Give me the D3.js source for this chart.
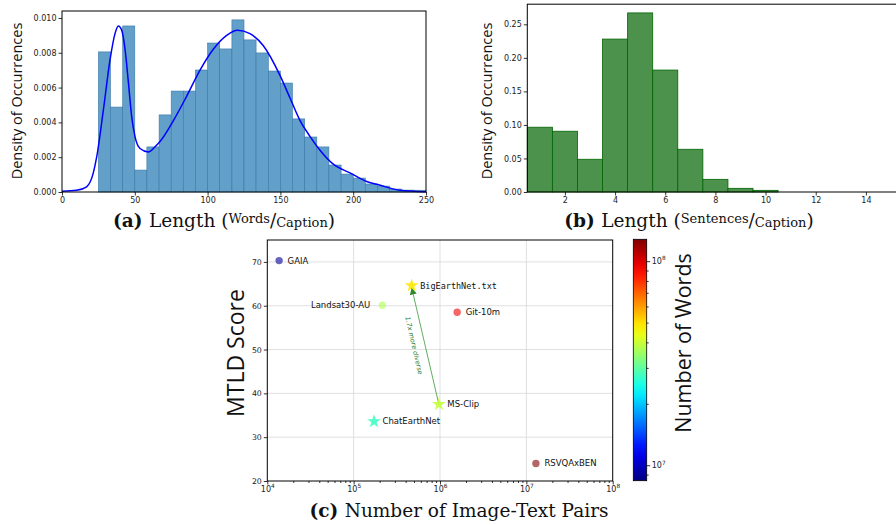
<!DOCTYPE html>
<html>
<head>
<meta charset="utf-8">
<script src="https://cdn.jsdelivr.net/npm/d3@7"></script>
<style>
  body { margin: 0; background: #fff; }
</style>
</head>
<body>
<script>
// (a) words per caption histogram + kde
const wordEdges = [25, 33.3, 41.7, 50, 58.3, 66.7, 75, 83.3, 91.7, 100, 108.3, 116.7, 125, 133.3,
  141.7, 150, 158.3, 166.7, 175, 183.3, 191.7, 200, 208.3, 216.7, 225, 233.3, 241.7, 250];
const wordDensity = [0.00805, 0.00488, 0.00954, 0.00126, 0.00259, 0.00443, 0.00580, 0.00580, 0.00701,
  0.00856, 0.00822, 0.00989, 0.00874, 0.00799, 0.00695, 0.00626, 0.00420, 0.00316, 0.00259, 0.00155,
  0.00103, 0.00080, 0.00046, 0.00034, 0.00017, 0.00011, 0.00010];
const kdeX = [0, 10, 16.9, 21.5, 23.8, 28.4, 33.0, 36.4, 38.7, 41.0, 43.3, 45.6, 47.9, 50.1, 53.6, 59.3,
  63.9, 67.3, 76.5, 85.6, 94.8, 103.9, 113.1, 120.6, 129.1, 138.3, 149.7, 156.6, 163.5, 170.3, 177.2,
  186.3, 197.8, 209.3, 218, 232, 250];
const kdeY = [0.00005, 0.0001, 0.0003, 0.0011, 0.0020, 0.0047, 0.0076, 0.0091, 0.00954, 0.0093, 0.0082,
  0.0063, 0.0043, 0.0032, 0.0025, 0.0023, 0.0026, 0.0029, 0.0041, 0.0055, 0.0070, 0.0082, 0.0090, 0.0093,
  0.0091, 0.0084, 0.0067, 0.0054, 0.0041, 0.0032, 0.0024, 0.0016, 0.0011, 0.0006, 0.0004, 0.0001, 0.00002];
const wordTicks = [0, 50, 100, 150, 200, 250];
const densityTicks = [0, 0.002, 0.004, 0.006, 0.008, 0.010];

// (b) sentences per caption
const sentBins = [1, 2, 3, 4, 5, 6, 7, 8, 9, 10];
const sentDensity = [0.0966, 0.0906, 0.0488, 0.228, 0.267, 0.1818, 0.0637, 0.0189, 0.0055, 0.0025];
const sentTicks = [2, 4, 6, 8, 10, 12, 14];
const sentDensityTicks = [0, 0.05, 0.10, 0.15, 0.20, 0.25];

// (c) diversity vs size
const datasets = ["GAIA", "BigEarthNet.txt", "Landsat30-AU", "Git-10m", "MS-Clip", "ChatEarthNet", "RSVQAxBEN"];
const pairs = [1.37e4, 4.7e5, 2.15e5, 1.58e6, 9.7e5, 1.72e5, 1.29e7];
const mtld = [70.3, 64.6, 60.1, 58.5, 37.5, 33.6, 24.0];
const words = [9e6, 4.9e7, 3.7e7, 9.5e7, 3.95e7, 2.75e7, 1.28e8];
const markers = ["circle", "star", "circle", "circle", "star", "star", "circle"];
const pairTicks = [1e4, 1e5, 1e6, 1e7, 1e8];
const mtldTicks = [20, 30, 40, 50, 60, 70];
const wordCountTicks = [1e7, 1e8];

const svg = d3.select("body").append("svg").attr("width", 896).attr("height", 525);

function jet(t) {
  const c = v => Math.max(0, Math.min(1, v));
  const r = c(1.5 - Math.abs(4 * t - 3)), g = c(1.5 - Math.abs(4 * t - 2)), b = c(1.5 - Math.abs(4 * t - 1));
  return d3.rgb(r * 255, g * 255, b * 255).formatHex();
}

function styleAxis(size) {
  return g => {
    g.select(".domain").remove();
    g.selectAll("text").attr("font-family", "DejaVu Sans").attr("font-size", size).attr("fill", "#222");
    g.selectAll("line").attr("stroke", "#000").attr("stroke-width", 0.8);
  };
}

function spines(x0, y0, x1, y1) {
  svg.append("rect").attr("x", x0).attr("y", y0).attr("width", x1 - x0).attr("height", y1 - y0)
    .attr("fill", "none").attr("stroke", "#000").attr("stroke-width", 1);
}

function caption(cx, y, tag, parts) {
  const t = svg.append("text").attr("x", cx).attr("y", y).attr("text-anchor", "middle")
    .attr("font-family", "DejaVu Serif").attr("font-size", 18.5).attr("fill", "#111");
  t.append("tspan").attr("font-weight", "bold").text(tag + " ");
  parts.forEach(p => {
    const s = t.append("tspan").text(p.t);
    if (p.small) s.attr("font-size", 13);
    if (p.dy) s.attr("dy", p.dy);
  });
}

// ---------- (a) ----------
const xA = d3.scaleLinear().domain([0, 250]).range([62, 426]);
const yA = d3.scaleLinear().domain([0, 0.0104]).range([192, 11]);

svg.append("g").selectAll("rect").data(wordDensity).join("rect")
  .attr("x", (d, i) => xA(wordEdges[i]))
  .attr("width", (d, i) => xA(wordEdges[i + 1]) - xA(wordEdges[i]))
  .attr("y", d => yA(d))
  .attr("height", d => yA(0) - yA(d))
  .attr("fill", "#62a0ca")
  .attr("stroke", "#3a78a8").attr("stroke-width", 0.6);

svg.append("path")
  .datum(kdeX.map((x, i) => [x, kdeY[i]]))
  .attr("d", d3.line().x(d => xA(d[0])).y(d => yA(d[1])).curve(d3.curveMonotoneX))
  .attr("fill", "none").attr("stroke", "#0000ff").attr("stroke-width", 1.5);

svg.append("g").attr("transform", "translate(0,192)")
  .call(d3.axisBottom(xA).tickValues(wordTicks).tickSize(3.5).tickPadding(2).tickFormat(d3.format("d")))
  .call(styleAxis(8));
svg.append("g").attr("transform", "translate(62,0)")
  .call(d3.axisLeft(yA).tickValues(densityTicks).tickSize(3.5).tickPadding(2).tickFormat(d3.format(".3f")))
  .call(styleAxis(8));
spines(62, 11, 426, 192);

svg.append("text").attr("transform", "translate(22,101) rotate(-90)").attr("text-anchor", "middle")
  .attr("font-family", "Open Sans").attr("font-size", 14.5).attr("fill", "#111")
  .text("Density of Occurrences");

caption(224, 227, "(a)", [{t: "Length ("}, {t: "Words", small: true, dy: -4}, {t: "/", dy: 4}, {t: "Caption", small: true}, {t: ")"}]);

// ---------- (b) ----------
const xB = d3.scaleLinear().domain([0.5, 15.5]).range([527.3, 903.5]);
const yB = d3.scaleLinear().domain([0, 0.28]).range([192, 4.2]);

svg.append("g").selectAll("rect").data(sentDensity).join("rect")
  .attr("x", (d, i) => xB(sentBins[i] - 0.5))
  .attr("width", xB(1.5) - xB(0.5))
  .attr("y", d => yB(d))
  .attr("height", d => yB(0) - yB(d))
  .attr("fill", "#4c924c")
  .attr("stroke", "#006400").attr("stroke-width", 0.8);

svg.append("g").attr("transform", "translate(0,192)")
  .call(d3.axisBottom(xB).tickValues(sentTicks).tickSize(3.5).tickPadding(2).tickFormat(d3.format("d")))
  .call(styleAxis(8));
svg.append("g").attr("transform", "translate(527.3,0)")
  .call(d3.axisLeft(yB).tickValues(sentDensityTicks).tickSize(3.5).tickPadding(2).tickFormat(d3.format(".2f")))
  .call(styleAxis(8));
spines(527.3, 4.2, 903.5, 192);

svg.append("text").attr("transform", "translate(492,101) rotate(-90)").attr("text-anchor", "middle")
  .attr("font-family", "Open Sans").attr("font-size", 14.5).attr("fill", "#111")
  .text("Density of Occurrences");

caption(689, 227, "(b)", [{t: "Length ("}, {t: "Sentences", small: true, dy: -4}, {t: "/", dy: 4}, {t: "Caption", small: true}, {t: ")"}]);

// ---------- (c) ----------
const xC = d3.scaleLog().domain([1e4, 1e8]).range([267.3, 612.7]);
const yC = d3.scaleLinear().domain([20, 75]).range([481, 240]);
const cScale = d3.scaleLog().domain([8.4e6, 1.28e8]).range([0, 1]);

const grid = svg.append("g").attr("stroke", "#d8d8d8").attr("stroke-width", 0.8);
grid.selectAll(".gx").data(pairTicks.slice(1, -1)).join("line")
  .attr("x1", d => xC(d)).attr("x2", d => xC(d)).attr("y1", 240).attr("y2", 481);
grid.selectAll(".gy").data(mtldTicks.slice(1)).join("line")
  .attr("y1", d => yC(d)).attr("y2", d => yC(d)).attr("x1", 267.3).attr("x2", 612.7);

// arrow BigEarthNet.txt vs MS-Clip
svg.append("defs").append("marker").attr("id", "ah")
  .attr("viewBox", "0 0 10 10").attr("refX", 10).attr("refY", 5)
  .attr("markerWidth", 7).attr("markerHeight", 7).attr("markerUnits", "userSpaceOnUse")
  .attr("orient", "auto")
  .append("path").attr("d", "M0,0L10,5L0,10Z").attr("fill", "#2e8b2e");
const iFrom = datasets.indexOf("MS-Clip"), iTo = datasets.indexOf("BigEarthNet.txt");
const p1 = [xC(pairs[iFrom]), yC(mtld[iFrom])], p2 = [xC(pairs[iTo]), yC(mtld[iTo])];
svg.append("line").attr("x1", p1[0]).attr("y1", p1[1]).attr("x2", p2[0]).attr("y2", p2[1] + 2)
  .attr("stroke", "#3a9a3a").attr("stroke-opacity", 0.8).attr("stroke-width", 1)
  .attr("marker-end", "url(#ah)");
const dx = p1[0] - p2[0], dy = p1[1] - p2[1], len = Math.hypot(dx, dy);
const ang = Math.atan2(dy, dx) * 180 / Math.PI;
const mx = (p1[0] + p2[0]) / 2 - 12 * dy / len, my = (p1[1] + p2[1]) / 2 + 12 * dx / len;
svg.append("text").attr("transform", `translate(${mx},${my - 2}) rotate(${ang})`)
  .attr("text-anchor", "middle").attr("dominant-baseline", "middle")
  .attr("font-family", "DejaVu Sans").attr("font-style", "italic").attr("font-size", 6.5)
  .attr("fill", "#2a7a2a").text("1.7x more diverse");

const pts = svg.append("g");
datasets.forEach((name, i) => {
  const x = xC(pairs[i]), y = yC(mtld[i]);
  const col = jet(cScale(words[i]));
  if (markers[i] === "star") {
    pts.append("path").attr("transform", `translate(${x},${y})`)
      .attr("d", d3.symbol(d3.symbolStar, 58)()).attr("fill", col).attr("opacity", 0.9);
  } else {
    pts.append("circle").attr("cx", x).attr("cy", y).attr("r", 3.7).attr("fill", col).attr("opacity", 0.6);
  }
  const left = name === "Landsat30-AU";
  pts.append("text").attr("x", left ? x - 12 : x + 8.5).attr("y", y + 3)
    .attr("text-anchor", left ? "end" : "start")
    .attr("font-family", name === "BigEarthNet.txt" ? "DejaVu Sans Mono" : "DejaVu Sans")
    .attr("font-size", 8.5).attr("fill", "#111").text(name);
});

function logMinor(dom) {
  const out = [];
  for (let e = Math.floor(Math.log10(dom[0])); e <= Math.ceil(Math.log10(dom[1])); e++)
    for (let m = 2; m < 10; m++) { const v = m * Math.pow(10, e); if (v > dom[0] && v < dom[1]) out.push(v); }
  return out;
}
function supLabels(g) {
  g.selectAll(".tick text").each(function (d) {
    const t = d3.select(this);
    t.text("10");
    t.append("tspan").attr("dy", -3.8).attr("font-size", 5.8).text(Math.round(Math.log10(d)));
  });
}

svg.append("g").attr("transform", "translate(0,481)")
  .call(d3.axisBottom(xC).tickValues(logMinor(xC.domain())).tickSize(2).tickFormat(""))
  .call(styleAxis(7.5));
svg.append("g").attr("transform", "translate(0,481)")
  .call(d3.axisBottom(xC).tickValues(pairTicks).tickSize(3.5).tickPadding(2))
  .call(styleAxis(8)).call(supLabels);
svg.append("g").attr("transform", "translate(267.3,0)")
  .call(d3.axisLeft(yC).tickValues(mtldTicks).tickSize(3.5).tickPadding(2).tickFormat(d3.format("d")))
  .call(styleAxis(7.8));
spines(267.3, 240, 612.7, 481);

svg.append("text").attr("transform", "translate(244,353) rotate(-90)").attr("text-anchor", "middle")
  .attr("font-family", "Open Sans").attr("font-size", 23).attr("fill", "#111").text("MTLD Score");

caption(459, 517, "(c)", [{t: "Number of Image-Text Pairs"}]);

// colorbar
const cbY = d3.scaleLog().domain([8.4e6, 1.28e8]).range([480.7, 239.3]);
const grad = svg.select("defs").append("linearGradient").attr("id", "jet")
  .attr("x1", 0).attr("y1", 1).attr("x2", 0).attr("y2", 0);
d3.range(0, 1.0001, 0.05).forEach(t => grad.append("stop").attr("offset", t).attr("stop-color", jet(t)));
svg.append("rect").attr("x", 633.3).attr("y", 239.3).attr("width", 13.4).attr("height", 241.4)
  .attr("fill", "url(#jet)").attr("stroke", "#000").attr("stroke-width", 0.8);
svg.append("g").attr("transform", "translate(646.7,0)")
  .call(d3.axisRight(cbY).tickValues(logMinor(cbY.domain())).tickSize(2).tickFormat(""))
  .call(styleAxis(7.5));
svg.append("g").attr("transform", "translate(646.7,0)")
  .call(d3.axisRight(cbY).tickValues(wordCountTicks).tickSize(3.5).tickPadding(1.5))
  .call(styleAxis(8)).call(supLabels);
svg.append("text").attr("transform", "translate(691,343) rotate(-90)").attr("text-anchor", "middle")
  .attr("font-family", "Open Sans").attr("font-size", 21.5).attr("fill", "#111").text("Number of Words");
</script>
</body>
</html>
